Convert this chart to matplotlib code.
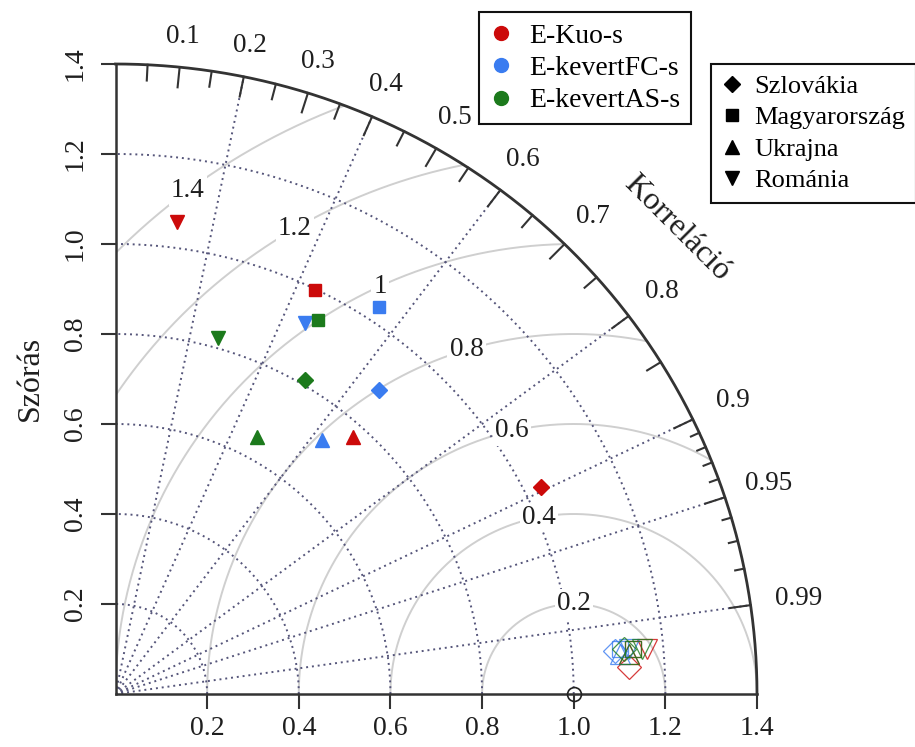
import numpy as np
import matplotlib
matplotlib.use("Agg")
import matplotlib.pyplot as plt
from matplotlib.lines import Line2D

plt.rcParams['font.family'] = ['Liberation Serif', 'DejaVu Serif']

# ---------------- data ----------------
models = ["E-Kuo-s", "E-kevertFC-s", "E-kevertAS-s"]
countries = ["Szlovákia", "Magyarország", "Ukrajna", "Románia"]

# filled markers: normalised standard deviation and correlation
std_kuo = [1.037, 0.998, 0.771, 1.058]
cor_kuo = [0.896, 0.436, 0.672, 0.127]
std_fc = [0.887, 1.035, 0.722, 0.922]
cor_fc = [0.648, 0.556, 0.624, 0.449]
std_as = [0.811, 0.941, 0.649, 0.822]
cor_as = [0.510, 0.470, 0.476, 0.272]

# hollow markers
std_kuo_h = [1.1216, 1.1344, 1.1236, 1.1643]
cor_kuo_h = [0.9986, 0.9961, 0.9968, 0.9963]
std_fc_h = [1.0941, 1.1045, 1.1037, 1.1245]
cor_fc_h = [0.9962, 0.9959, 0.9967, 0.9960]
std_as_h = [1.1145, 1.1344, 1.1236, 1.1543]
cor_as_h = [0.9960, 0.9961, 0.9968, 0.9962]

std_ticks = [0.2, 0.4, 0.6, 0.8, 1.0, 1.2, 1.4]
cor_labels = [0.1, 0.2, 0.3, 0.4, 0.5, 0.6, 0.7, 0.8, 0.9, 0.95, 0.99]
cor_grid = [0.2, 0.4, 0.6, 0.8, 0.9, 0.95, 0.99]
rms_levels = [0.2, 0.4, 0.6, 0.8, 1.0, 1.2, 1.4]
rms_labels = ["0.2", "0.4", "0.6", "0.8", "1", "1.2", "1.4"]

# ---------------- style ----------------
colors = ["#cc0a0a", "#3a7cf0", "#1c7a1c"]
markers = ["D", "s", "^", "v"]
msizes = [8, 8, 10, 10]
RMAX = 1.4
gridc = "#55557a"
rmsc = "#cfcfcf"
axc = "#333333"
txtc = "#1e1e1e"
rms_label_ang = [90, 101, 103, 107, 115, 120.5, 127]

fig = plt.figure(figsize=(9.15, 7.47), dpi=100)
ax = fig.add_axes([115.5 / 915, 53 / 747, 641.5 / 915, 630 / 747])
ax.set_xlim(0, RMAX)
ax.set_ylim(0, RMAX)
for s in ["top", "right"]:
    ax.spines[s].set_visible(False)
for s in ["left", "bottom"]:
    ax.spines[s].set_color(axc)
    ax.spines[s].set_linewidth(1.8)

ax.set_xticks(std_ticks)
ax.set_yticks(std_ticks)
ax.set_xticklabels([f"{v:.1f}" for v in std_ticks])
ax.set_yticklabels([f"{v:.1f}" for v in std_ticks], rotation=90, va="center")
ax.tick_params(direction="out", length=11, width=1.5, color=axc, labelsize=20,
               labelcolor=txtc)
ax.tick_params(axis="y", pad=9)
ax.tick_params(axis="x", pad=5)

t = np.linspace(0, np.pi / 2, 400)

# std dotted arcs
for r in std_ticks[:-1]:
    ax.plot(r * np.cos(t), r * np.sin(t), linestyle=(0, (1, 2)), color=gridc, lw=1.4, zorder=1)
# outer arc
ax.plot(RMAX * np.cos(t), RMAX * np.sin(t), color=axc, lw=2.0, zorder=3, clip_on=False)

# correlation dotted radials
for c in cor_grid:
    a = np.arccos(c)
    ax.plot([0, RMAX * np.cos(a)], [0, RMAX * np.sin(a)], linestyle=(0, (1, 2)),
            color=gridc, lw=1.4, zorder=1)

# correlation ticks on outer arc
tick_vals = list(np.round(np.arange(0.05, 0.90001, 0.05), 2)) + [0.91, 0.92, 0.93, 0.94, 0.95,
                                                                  0.96, 0.97, 0.98, 0.99]
for v in tick_vals:
    a = np.arccos(v)
    if v in cor_labels:
        L = 0.045
    elif abs(v * 20 - round(v * 20)) < 1e-6:
        L = 0.035
    else:
        L = 0.02
    ax.plot([(RMAX - L) * np.cos(a), RMAX * np.cos(a)],
            [(RMAX - L) * np.sin(a), RMAX * np.sin(a)], color=axc, lw=1.5, zorder=3,
            clip_on=False)

for v in cor_labels:
    a = np.arccos(v)
    rr = 1.465 + 0.045 * (1 - np.degrees(a) / 90)
    ax.text(rr * np.cos(a), rr * np.sin(a), f"{v:g}", ha="center", va="center",
            fontsize=19.5, color=txtc)

# RMS arcs centred on reference point
tt = np.linspace(0, np.pi, 800)
for r, lab, ang in zip(rms_levels, rms_labels, rms_label_ang):
    x = 1 + r * np.cos(tt)
    y = r * np.sin(tt)
    m = (x < 0) | (np.hypot(x, y) > RMAX)
    x = np.where(m, np.nan, x)
    y = np.where(m, np.nan, y)
    ax.plot(x, y, color=rmsc, lw=1.4, zorder=0.9)
    aa = np.radians(ang)
    ax.text(1 + r * np.cos(aa), r * np.sin(aa), lab, ha="center", va="center", fontsize=19.5,
            color=txtc, zorder=2,
            bbox=dict(boxstyle="square,pad=0.08", fc="white", ec="none"))

# reference point
ax.plot([1.0], [0.0], marker="o", ms=10, mfc="none", mec="#222222", mew=1.2, zorder=4,
        clip_on=False)

# data points
filled = [(std_kuo, cor_kuo), (std_fc, cor_fc), (std_as, cor_as)]
hollow = [(std_kuo_h, cor_kuo_h), (std_fc_h, cor_fc_h), (std_as_h, cor_as_h)]
for col, (sd, cr) in zip(colors, filled):
    for k in range(4):
        a = np.arccos(cr[k])
        ax.plot(sd[k] * np.cos(a), sd[k] * np.sin(a), marker=markers[k], ms=msizes[k],
                color=col, mec=col, ls="none", zorder=5)
for col, (sd, cr) in zip(colors, hollow):
    for k in range(4):
        a = np.arccos(cr[k])
        ax.plot(sd[k] * np.cos(a), sd[k] * np.sin(a), marker=markers[k], ms=msizes[k] + 4,
                mfc="none", mec=col, mew=0.9, ls="none", zorder=5, alpha=0.8)

# axis labels
fig.text(30 / 915, 1 - 378 / 747, "Szórás", rotation=90, ha="center", va="center",
         fontsize=23, color=txtc)
ka = np.radians(40.2)
ax.text(1.603 * np.cos(ka), 1.603 * np.sin(ka), "Korreláció", rotation=-45,
        rotation_mode="anchor", ha="center", va="center", fontsize=23, color=txtc)

# legends
h1 = [Line2D([], [], marker="o", ls="none", color=c, ms=10) for c in colors]
leg1 = fig.legend(h1, models, loc="upper left", bbox_to_anchor=(479 / 915, 1 - 12 / 747),
                  fontsize=20, frameon=True, fancybox=False, framealpha=1, edgecolor="#111111",
                  handlelength=0.8, handletextpad=0.6, labelspacing=0.25, borderpad=0.4,
                  borderaxespad=0)
leg1.get_frame().set_linewidth(1.5)
h2 = [Line2D([], [], marker=m, ls="none", color="black", ms=s) for m, s in
      zip(markers, [8, 8, 10, 10])]
leg2 = fig.legend(h2, countries, loc="upper left", bbox_to_anchor=(711 / 915, 1 - 64 / 747),
                  fontsize=19, frameon=True, fancybox=False, framealpha=1, edgecolor="#111111",
                  handlelength=0.8, handletextpad=0.45, labelspacing=0.3, borderpad=0.4,
                  borderaxespad=0)
leg2.get_frame().set_linewidth(1.5)

fig.savefig("out.png", dpi=100, facecolor="white")
